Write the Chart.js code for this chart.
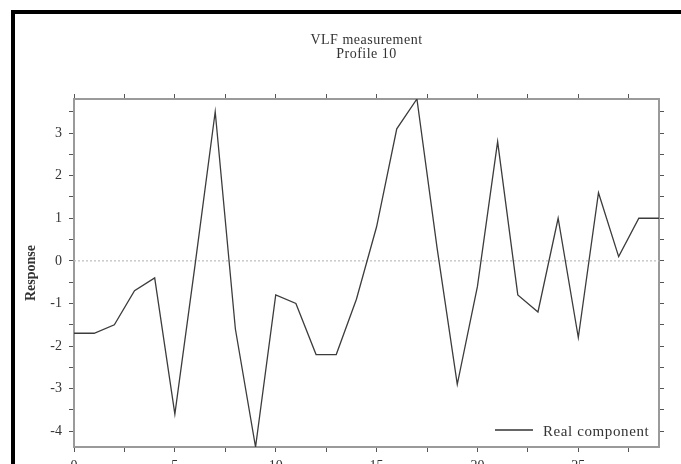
<!DOCTYPE html>
<html>
<head>
<meta charset="utf-8">
<script src="https://cdn.jsdelivr.net/npm/chart.js@4.4.0/dist/chart.umd.min.js"></script>
<style>
  html, body { margin: 0; padding: 0; background: #fff; overflow: hidden; }
  #wrap { position: relative; width: 681px; height: 464px; }
  #frame { position: absolute; left: 11px; top: 10px; width: 700px; height: 480px; border: 4px solid #000; pointer-events: none; }
  canvas { position: absolute; left: 0; top: 0; }
</style>
</head>
<body>
<div id="wrap">
  <canvas id="vlf" width="681" height="464"></canvas>
  <div id="frame"></div>
</div>
<script>
// station number along the profile
const stations = [0, 1, 2, 3, 4, 5, 6, 7, 8, 9, 10, 11, 12, 13, 14, 15, 16, 17, 18, 19, 20, 21, 22, 23, 24, 25, 26, 27, 28, 29];
// real component of the VLF response
const realComponent = [-1.7, -1.7, -1.5, -0.7, -0.4, -3.6, -0.1, 3.5, -1.6, -4.37, -0.8, -1.0, -2.2, -2.2, -0.9, 0.8, 3.1, 3.8, 0.3, -2.9, -0.6, 2.8, -0.8, -1.2, 1.0, -1.8, 1.6, 0.1, 1.0, 1.0];
const titleLines = ['VLF measurement', 'Profile 10'];
const yLabel = 'Response';
const seriesName = 'Real component';
const xMin = 0, xMax = 29;
const yMin = -4.37, yMax = 3.8;

const SERIF = '"Liberation Serif", "DejaVu Serif", serif';
const axisGrey = '#9a9a9a';
const tickGrey = '#555';

// title over the plot centre + legend in the lower right corner
const extras = {
  id: 'extras',
  afterDraw(chart) {
    const ctx = chart.ctx;
    const a = chart.chartArea;
    ctx.save();
    ctx.fillStyle = '#333';
    ctx.font = '14px ' + SERIF;
    ctx.letterSpacing = '0.5px';
    ctx.textAlign = 'center';
    ctx.textBaseline = 'middle';
    const cx = (a.left + a.right) / 2;
    ctx.fillText(titleLines[0], cx, 40);
    ctx.fillText(titleLines[1], cx, 54);

    // legend
    ctx.font = '15px ' + SERIF;
    ctx.letterSpacing = '0.6px';
    ctx.textAlign = 'left';
    const tx = a.right - 116, ty = a.bottom - 15;
    ctx.fillText(chart.data.datasets[0].label, tx, ty);
    ctx.strokeStyle = '#333';
    ctx.lineWidth = 1.3;
    ctx.beginPath();
    ctx.moveTo(tx - 48, ty - 2);
    ctx.lineTo(tx - 10, ty - 2);
    ctx.stroke();
    ctx.restore();
  }
};

const pts = stations.map((s, i) => ({ x: s, y: realComponent[i] }));

const xTicks = {
  stepSize: 2.5,
  color: '#333',
  font: { family: SERIF, size: 14 },
  padding: 6,
  maxRotation: 0,
  includeBounds: false,
  callback: v => (v % 5 === 0 ? String(v) : '')
};
const yTicks = {
  stepSize: 0.5,
  color: '#333',
  font: { family: SERIF, size: 14 },
  padding: 7,
  includeBounds: false,
  callback: v => (Math.abs(v - Math.round(v)) < 1e-6 ? String(Math.round(v)) : '')
};
const gridOff = (len) => ({ drawOnChartArea: false, drawTicks: true, tickLength: len, tickColor: tickGrey, tickWidth: 1 });
const border = { display: true, color: axisGrey, width: 2 };

new Chart(document.getElementById('vlf'), {
  type: 'line',
  data: {
    datasets: [
      {
        label: seriesName,
        data: pts,
        borderColor: '#3c3c3c',
        borderWidth: 1.3,
        pointRadius: 0,
        tension: 0,
        xAxisID: 'x',
        yAxisID: 'y'
      },
      {
        label: 'zero',
        data: [{ x: xMin, y: 0 }, { x: xMax, y: 0 }],
        borderColor: '#bdbdbd',
        borderWidth: 1.2,
        borderDash: [2, 2],
        pointRadius: 0,
        xAxisID: 'x',
        yAxisID: 'y'
      }
    ]
  },
  options: {
    responsive: false,
    animation: false,
    devicePixelRatio: 1,
    layout: { padding: { top: 60, left: 0, right: 16, bottom: 0 } },
    plugins: { legend: { display: false }, title: { display: false }, tooltip: { enabled: false } },
    scales: {
      x: {
        type: 'linear', position: 'bottom', min: xMin, max: xMax,
        ticks: xTicks, grid: gridOff(5), border: border,
        afterFit: s => { s.height = 17; }
      },
      x2: {
        type: 'linear', position: 'top', min: xMin, max: xMax,
        ticks: Object.assign({}, xTicks, { display: false }), grid: gridOff(5), border: border,
        afterFit: s => { s.height = 39; }
      },
      y: {
        type: 'linear', position: 'left', min: yMin, max: yMax,
        ticks: yTicks, grid: gridOff(5), border: border,
        title: { display: true, text: yLabel, color: '#333', font: { family: SERIF, size: 14, weight: 'bold' }, padding: { top: 23, bottom: 0 } },
        afterFit: s => { s.width = 74; }
      },
      y2: {
        type: 'linear', position: 'right', min: yMin, max: yMax,
        ticks: Object.assign({}, yTicks, { display: false }), grid: gridOff(5), border: border,
        afterFit: s => { s.width = 6; }
      }
    }
  },
  plugins: [extras]
});
</script>
</body>
</html>
